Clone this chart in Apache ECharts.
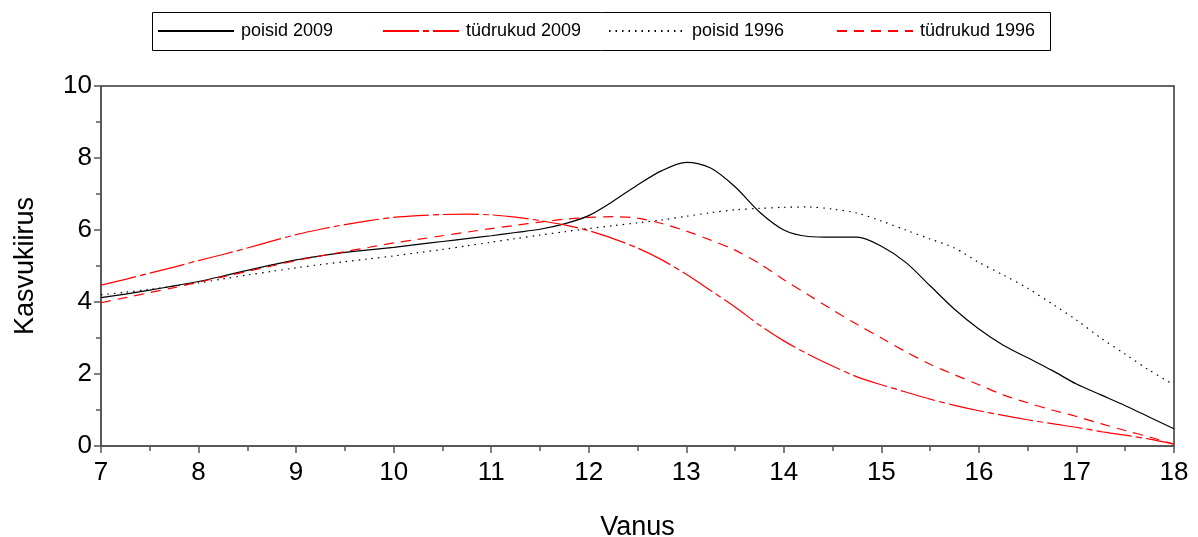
<!DOCTYPE html>
<html>
<head>
<meta charset="utf-8">
<script src="https://cdn.jsdelivr.net/npm/echarts@6/dist/echarts.min.js"></script>
<style>
html,body{margin:0;padding:0;background:#fff;}
#chart{width:1198px;height:537px;}
</style>
</head>
<body>
<div id="chart"></div>
<script>
// Ages (years), quarter-year steps from 7 to 18
var ages = [7,7.25,7.5,7.75,8,8.25,8.5,8.75,9,9.25,9.5,9.75,10,10.25,10.5,10.75,11,11.25,11.5,11.75,12,12.25,12.5,12.75,13,13.25,13.5,13.75,14,14.25,14.5,14.75,15,15.25,15.5,15.75,16,16.25,16.5,16.75,17,17.25,17.5,17.75,18];

var poisid2009 = [4.12,4.22,4.33,4.45,4.57,4.72,4.88,5.03,5.17,5.28,5.38,5.45,5.52,5.6,5.68,5.76,5.84,5.93,6.02,6.17,6.4,6.8,7.25,7.65,7.88,7.72,7.2,6.5,6.0,5.82,5.8,5.8,5.55,5.1,4.45,3.8,3.25,2.8,2.45,2.1,1.72,1.42,1.12,0.8,0.48];

var tudrukud2009 = [4.47,4.63,4.8,4.97,5.15,5.32,5.5,5.69,5.87,6.02,6.15,6.26,6.35,6.4,6.43,6.44,6.42,6.36,6.26,6.14,5.98,5.76,5.5,5.17,4.77,4.32,3.86,3.36,2.92,2.55,2.22,1.92,1.7,1.5,1.3,1.13,0.98,0.85,0.73,0.62,0.52,0.4,0.3,0.19,0.05];

var poisid1996 = [4.2,4.27,4.35,4.44,4.53,4.64,4.75,4.85,4.95,5.04,5.12,5.2,5.28,5.37,5.46,5.56,5.66,5.76,5.86,5.95,6.04,6.12,6.2,6.28,6.38,6.48,6.56,6.6,6.63,6.64,6.58,6.47,6.25,6.0,5.75,5.5,5.1,4.75,4.38,3.95,3.5,3.0,2.55,2.1,1.7];

var tudrukud1996 = [3.98,4.12,4.26,4.4,4.55,4.7,4.85,5.0,5.15,5.28,5.4,5.52,5.64,5.74,5.84,5.94,6.04,6.13,6.22,6.3,6.35,6.37,6.33,6.18,5.97,5.72,5.44,5.07,4.62,4.2,3.78,3.38,3.0,2.62,2.27,1.98,1.7,1.42,1.2,1.0,0.82,0.62,0.43,0.25,0.05];

var seriesNames = ['poisid 2009','tüdrukud 2009','poisid 1996','tüdrukud 1996'];
var xTicks = [7,8,9,10,11,12,13,14,15,16,17,18];
var yTicks = [0,2,4,6,8,10];

function pairs(vals){ return ages.map(function(a,i){ return [a, vals[i]]; }); }

var FONT = '"Liberation Sans", Arial, sans-serif';
var chart = echarts.init(document.getElementById('chart'), null, {renderer:'canvas'});

function mk(name, vals, color, type){
  return {
    name: name, type: 'line', data: pairs(vals), smooth: 0.3,
    symbol: 'none', showSymbol: false,
    lineStyle: {color: color, width: 1.2, type: type},
    itemStyle: {color: color},
    emphasis: {disabled: true}, animation: false
  };
}

var legendLefts = [157, 382, 608, 836];
var legends = seriesNames.map(function(n, i){
  return {
    left: legendLefts[i], top: 22, data: [n], padding: 0,
    itemWidth: 76, itemHeight: 18,
    itemStyle: {opacity: 0},
    textStyle: {fontFamily: FONT, fontSize: 18, color: '#000', padding: [0, 0, 0, 2]},
    selectedMode: false
  };
});

chart.setOption({
  animation: false,
  backgroundColor: '#fff',
  grid: {left: 101, right: 24, top: 86, bottom: 91, show: true, borderColor: '#333', borderWidth: 1.5,
    backgroundColor: 'transparent', containLabel: false, outerBoundsMode: 'none'},
  graphic: [{type: 'rect', left: 152, top: 12, shape: {width: 898, height: 38},
    style: {fill: 'transparent', stroke: '#000', lineWidth: 1}, silent: true}],
  legend: legends,
  xAxis: {
    type: 'value', min: 7, max: 18, interval: 1,
    name: 'Vanus', nameLocation: 'middle', nameGap: 68,
    nameTextStyle: {fontFamily: FONT, fontSize: 27, color: '#000'},
    axisLine: {show: true, lineStyle: {color: '#555', width: 1.5}},
    axisTick: {show: true, inside: false, length: 7, lineStyle: {color: '#555', width: 1.5}},
    minorTick: {show: true, splitNumber: 2, length: 5, lineStyle: {color: '#555', width: 1.5}},
    splitLine: {show: false},
    axisLabel: {fontFamily: FONT, fontSize: 26, color: '#000', margin: 14,
      formatter: function(v){ return xTicks.indexOf(v) >= 0 ? String(v) : ''; }}
  },
  yAxis: {
    type: 'value', min: 0, max: 10, interval: 2,
    name: 'Kasvukiirus', nameLocation: 'middle', nameGap: 62, nameRotate: 90,
    nameTextStyle: {fontFamily: FONT, fontSize: 27, color: '#000'},
    axisLine: {show: true, lineStyle: {color: '#555', width: 1.5}},
    axisTick: {show: true, inside: false, length: 7, lineStyle: {color: '#555', width: 1.5}},
    minorTick: {show: true, splitNumber: 2, length: 5, lineStyle: {color: '#555', width: 1.5}},
    splitLine: {show: false},
    axisLabel: {fontFamily: FONT, fontSize: 26, color: '#000', margin: 9,
      formatter: function(v){ return yTicks.indexOf(v) >= 0 ? String(v) : ''; }}
  },
  series: [
    mk(seriesNames[0], poisid2009, '#000000', 'solid'),
    mk(seriesNames[1], tudrukud2009, '#ff0000', [36, 4, 6, 4]),
    mk(seriesNames[2], poisid1996, '#000000', [1.5, 5]),
    mk(seriesNames[3], tudrukud1996, '#ff0000', [10, 7])
  ]
});
</script>
</body>
</html>
